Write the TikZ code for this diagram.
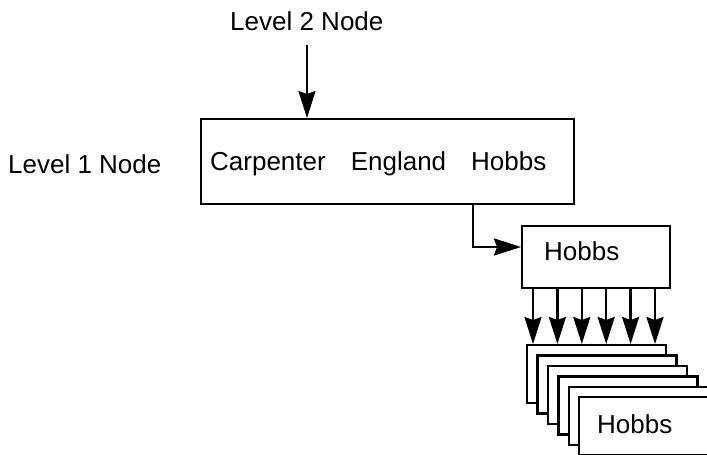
\documentclass[tikz,border=0pt]{standalone}
\usepackage{fontspec}
\setmainfont{Liberation Sans}
\usetikzlibrary{arrows.meta,positioning}
\begin{document}
\begin{tikzpicture}[x=1pt,y=-1pt,
  lbl/.style={font=\fontsize{26}{30}\selectfont, inner sep=0pt, anchor=base west},
  box/.style={draw, line width=2.4pt, fill=white, inner sep=0pt},
  card/.style={box, minimum width=139pt, minimum height=58pt, anchor=north west},
  link/.style={line width=2.4pt, -{Stealth[length=27pt, width=17pt, inset=3pt]}}]
\useasboundingbox (0,0) rectangle (707,455);

% labels for the two levels
\node[lbl] (lvltwo) at (230,30) {Level 2 Node};
\node[lbl] (lvlone) at (8,173) {Level 1 Node};

% level 1 node holding three keys
\node[box, minimum width=373pt, minimum height=85pt, anchor=north west] (main) at (200,118) {};
\node[lbl] (keys) at (210,170) {Carpenter\hspace{25pt}England\hspace{25pt}Hobbs};

% node reached from the key Hobbs
\node[box, minimum width=148pt, minimum height=62pt, anchor=north west] (hobbs) at (521,225) {};
\node[lbl] (hobbstext) at (544,260) {Hobbs};

% stack of records
\foreach \i in {0,...,5} {
  \node[card] (rec\i) at ({526+10.4*\i},{344+10.4*\i}) {};
}
\node[lbl] (rectext) at (597,433) {Hobbs};

% connectors
\coordinate (topstart) at (307,45);
\draw[link] (topstart) -- (topstart |- main.north);
\coordinate (turn) at (473,247);
\draw[link] (turn |- main.south) -- (turn) -- (turn -| hobbs.west);
\foreach \k in {0,...,5} {
  \coordinate (ptr\k) at ({533+24.4*\k},287);
  \draw[link] (ptr\k |- hobbs.south) -- (ptr\k |- rec0.north);
}
\end{tikzpicture}
\end{document}
